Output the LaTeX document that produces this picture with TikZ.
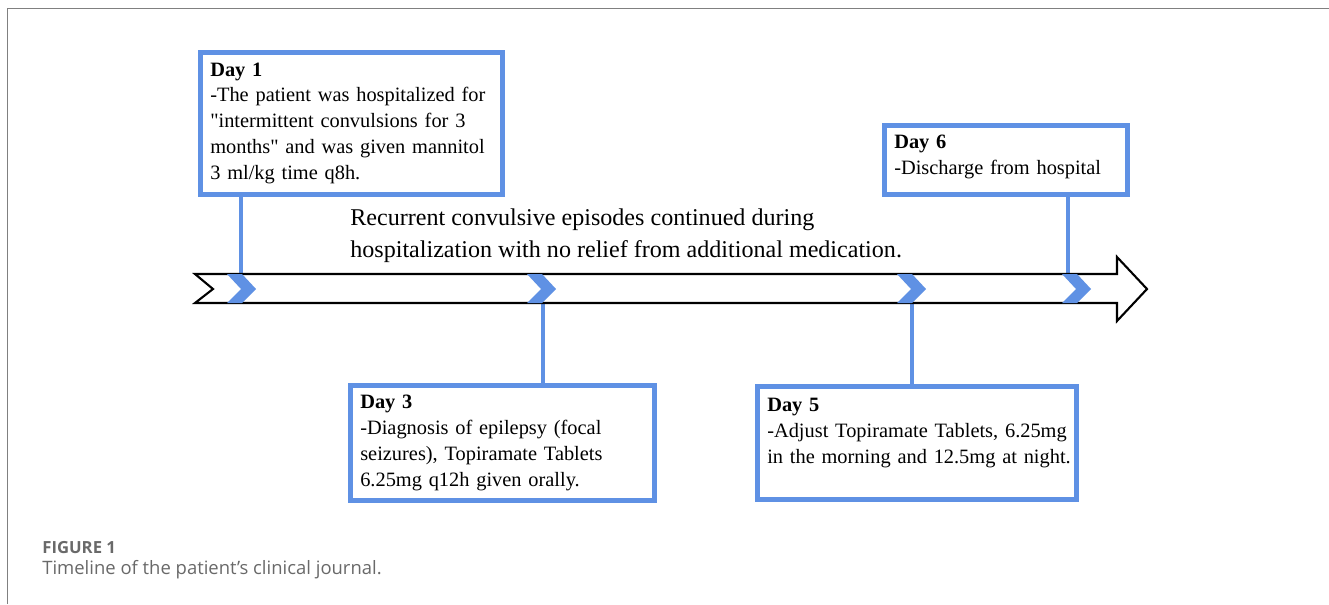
\documentclass[tikz,border=0pt]{standalone}
\usepackage{fontspec}
\setmainfont{Liberation Serif}[Ligatures=TeXOff]
\newfontfamily\capfont{Open Sans}

\definecolor{dayblue}{RGB}{95,145,228}
\definecolor{capgray}{RGB}{105,105,105}

\tikzset{
    daybox/.style={shape=rectangle,draw=dayblue,line width=2.6pt,anchor=north west,
        align=left,inner xsep=0.2cm,inner ysep=0.15cm,font=\fontsize{11.6}{14.7}\selectfont},
    link/.style={draw=dayblue,line width=2.2pt},
    chev/.style={fill=dayblue},
}

\begin{document}
\begin{tikzpicture}
        \useasboundingbox (0,0) rectangle (26.58,-12.08);
        \draw[gray,line width=1pt] (0.15,-12.08) -- (0.15,-0.17) -- (26.58,-0.17);

        \coordinate (t1) at (4.82,-5.48);
        \coordinate (t3) at (10.86,-6.06);
        \coordinate (t5) at (18.24,-6.06);
        \coordinate (t6) at (21.36,-5.48);

        \node[daybox,text width=5.64cm,minimum height=2.84cm] (day1) at (3.96,-1.00)
            {\textbf{Day 1}\\-The patient was hospitalized for\\"intermittent convulsions for 3\\months" and was given mannitol\\3 ml/kg time q8h.};
        \node[daybox,text width=5.68cm,minimum height=2.30cm] (day3) at (6.96,-7.66)
            {\textbf{Day 3}\\-Diagnosis of epilepsy (focal\\seizures), Topiramate Tablets\\6.25mg q12h given orally.};
        \node[daybox,text width=5.98cm,text height=0.36cm,text depth=1.60cm] (day5) at (15.10,-7.68)
            {\textbf{Day 5}\\\mbox{-Adjust Topiramate Tablets, 6.25mg}\\\mbox{in the morning and 12.5mg at night.}};
        \node[daybox,text width=4.46cm,text height=0.31cm,text depth=0.77cm] (day6) at (17.64,-2.46)
            {\textbf{Day 6}\\-Discharge from hospital};

        \node[anchor=north west,align=left,inner sep=0,font=\fontsize{13.7}{18.7}\selectfont] (note) at (7.0,-4.16)
            {Recurrent convulsive episodes continued during\\hospitalization with no relief from additional medication.};

        \path[link]
        (day1.south -| t1) edge (t1)
        (day6.south -| t6) edge (t6)
        (t3) edge (day3.north -| t3)
        (t5) edge (day5.north -| t5);

        % timeline arrow
        \draw[line width=1.2pt,fill=white] (3.90,-5.48) -- (22.34,-5.48) -- (22.34,-5.14) -- (22.94,-5.78)
            -- (22.34,-6.42) -- (22.34,-6.06) -- (3.90,-6.06) -- (4.26,-5.78) -- cycle;

        \fill[chev] (4.54,-5.48) -- ++(0.30,0) -- ++(0.28,-0.30) -- ++(-0.28,-0.28) -- ++(-0.30,0) -- ++(0.28,0.28) -- cycle;
        \fill[chev] (10.54,-5.48) -- ++(0.30,0) -- ++(0.28,-0.30) -- ++(-0.28,-0.28) -- ++(-0.30,0) -- ++(0.28,0.28) -- cycle;
        \fill[chev] (17.94,-5.48) -- ++(0.30,0) -- ++(0.28,-0.30) -- ++(-0.28,-0.28) -- ++(-0.30,0) -- ++(0.28,0.28) -- cycle;
        \fill[chev] (21.24,-5.48) -- ++(0.30,0) -- ++(0.28,-0.30) -- ++(-0.28,-0.28) -- ++(-0.30,0) -- ++(0.28,0.28) -- cycle;

        \node[anchor=base west,inner sep=0,text=capgray,font=\capfont\bfseries\fontsize{9.5}{11}\selectfont] (figlabel) at (0.84,-11.06) {FIGURE 1};
        \node[anchor=base west,inner sep=0,text=capgray,font=\capfont\fontsize{10.5}{12}\selectfont] (caption) at (0.84,-11.48) {Timeline of the patient’s clinical journal.};
\end{tikzpicture}
\end{document}
